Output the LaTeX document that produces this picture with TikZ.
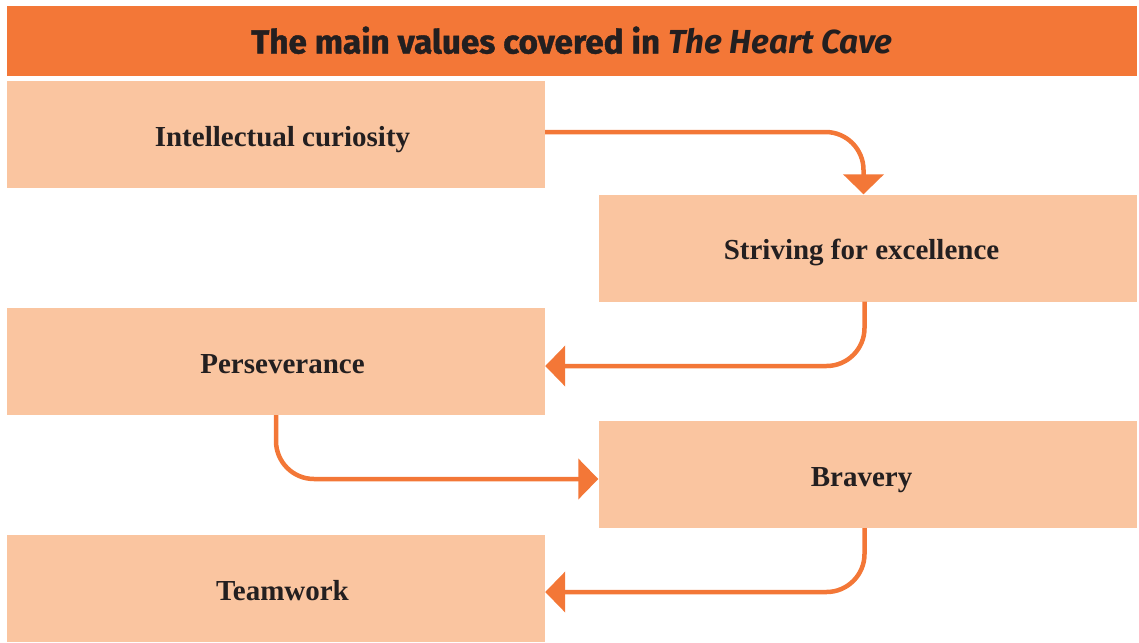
\documentclass[tikz,border=0pt]{standalone}
\usepackage{fontspec}
\setmainfont{Liberation Serif}
\newfontfamily\titlefont{Fira Sans}[BoldFeatures={FakeBold=1.2}]
\usetikzlibrary{arrows.meta}
\definecolor{heartorange}{HTML}{F37737}
\definecolor{heartpeach}{HTML}{FAC5A0}
\definecolor{heartink}{HTML}{231F20}
\begin{document}
\begin{tikzpicture}[x=1pt,y=-1pt,
    value/.style={fill=heartpeach,minimum width=538pt,minimum height=107pt,inner sep=0pt,
        text height=23pt,text depth=0pt,text=heartink,font=\fontsize{29}{32}\selectfont\bfseries},
    leftvalue/.style={value,execute at begin node=\hspace*{13pt}},
    rightvalue/.style={value,execute at end node=\hspace*{12pt}},
    flow/.style={draw=heartorange,line width=4.5pt,rounded corners=38pt,
        -{Triangle[length=20pt,width=40pt]}}]
    \useasboundingbox (0,0) rectangle (1139,642);
    \node[fill=heartorange,minimum width=1130pt,minimum height=69pt,inner sep=0pt,text=heartink,
        text height=25pt,text depth=0pt,font=\titlefont\fontsize{33.3}{36}\selectfont\bfseries]
        (title) at (572,41) {The main values covered in \textit{The Heart Cave}};
    \node[leftvalue] (curiosity) at (276,134.5) {Intellectual curiosity};
    \node[rightvalue] (striving) at (867.5,248) {Striving for excellence};
    \node[leftvalue] (perseverance) at (276,361.5) {Perseverance};
    \node[rightvalue] (bravery) at (867.5,474.5) {Bravery};
    \node[leftvalue] (teamwork) at (276,588.5) {Teamwork};
    \draw[flow] ([yshift=2.5pt]curiosity.east) -| ([xshift=-4pt]striving.north);
    \draw[flow] ([xshift=-3pt]striving.south) |- ([yshift=-4.5pt]perseverance.east);
    \draw[flow] (perseverance.south) |- ([yshift=-4.5pt]bravery.west);
    \draw[flow] ([xshift=-3pt]bravery.south) |- ([yshift=-3.5pt]teamwork.east);
\end{tikzpicture}
\end{document}
